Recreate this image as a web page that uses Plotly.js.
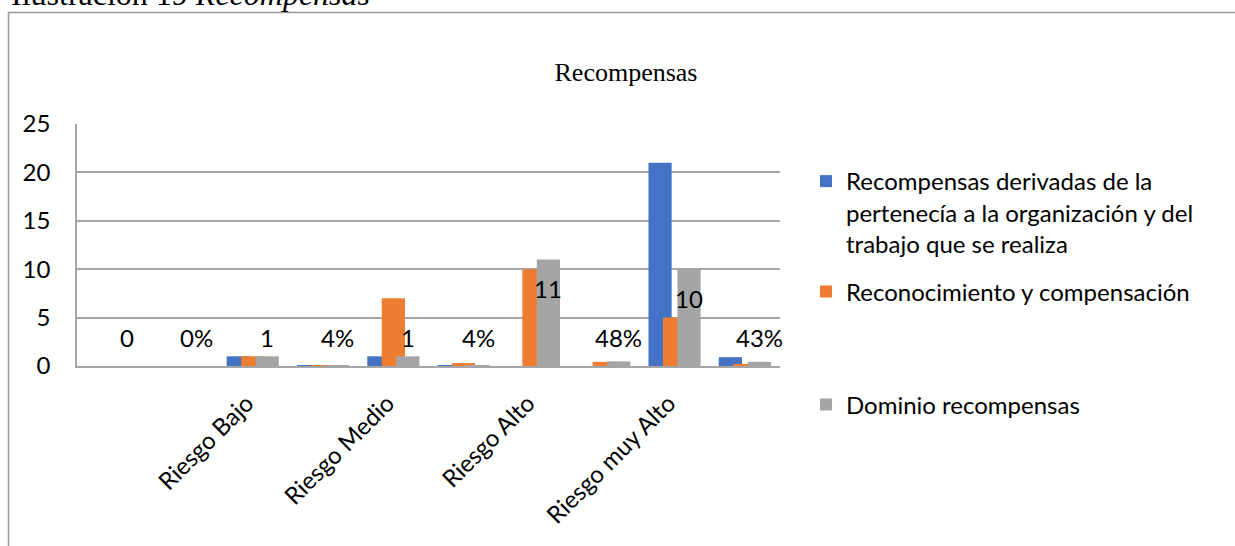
<!DOCTYPE html>
<html>
<head>
<meta charset="utf-8">
<script src="https://cdn.plot.ly/plotly-3.0.1.min.js"></script>
<style>html,body{margin:0;padding:0;background:#fff;}#chart{width:1235px;height:546px;}</style>
</head>
<body>
<div id="chart"></div>
<script>
// ---- data ----
const categories = ['Sin riesgo (n)', 'Sin riesgo (%)', 'Riesgo Bajo', 'Riesgo Bajo (%)', 'Riesgo Medio', 'Riesgo Medio (%)', 'Riesgo Alto', 'Riesgo Alto (%)', 'Riesgo muy Alto', 'Riesgo muy Alto (%)'];
const seriesNames = [
  'Recompensas derivadas de la<br>pertenecía a la organización y del<br>trabajo que se realiza',
  'Reconocimiento y compensación',
  'Dominio recompensas'
];
const blueVals   = [0, 0, 1, 0.04, 1, 0.04, 0, 0, 21, 0.91];
const orangeVals = [0, 0, 1, 0.04, 7, 0.30, 10, 0.43, 5, 0.22];
const grayVals   = [0, 0, 1, 0.04, 1, 0.04, 11, 0.48, 10, 0.43];
const grayLabels = ['0', '0%', '1', '4%', '1', '4%', '11', '48%', '10', '43%'];
const axisLabels = ['Riesgo Bajo', 'Riesgo Medio', 'Riesgo Alto', 'Riesgo muy Alto'];
const yTicks = [0, 5, 10, 15, 20, 25];

// ---- style ----
const colors = ['#4472C4', '#ED7D31', '#A5A5A5'];
const SANS = 'Lato, "Open Sans", sans-serif';
const SERIF = '"Liberation Serif", "Times New Roman", serif';
const FS = 24;
const W = 1235, H = 546;
const M = {l: 77, r: 455, t: 124, b: 180};
const plotW = W - M.l - M.r;
const barW = 0.33;      // category units
const step = 0.206;     // offset between series centres
const centres = [-step, 0, step];

const allVals = [blueVals, orangeVals, grayVals];
const legends = ['legend', 'legend2', 'legend3'];
const traces = allVals.map((vals, k) => ({
  type: 'bar',
  x: categories,
  y: vals,
  name: seriesNames[k],
  marker: {color: colors[k]},
  width: barW,
  offset: centres[k] - barW / 2,
  legend: legends[k],
  hoverinfo: 'y'
}));

const pxPerCat = plotW / categories.length;
const annotations = grayVals.map((v, i) => ({
  x: categories[i], xref: 'x', y: Math.max(v - 3.0, 2.9), yref: 'y',
  xshift: centres[2] * pxPerCat, text: grayLabels[i], showarrow: false,
  font: {family: SANS, size: FS, color: '#000'}, xanchor: 'center', yanchor: 'middle'
}));
const px2x = p => (p - M.l) / plotW;
const py2y = p => (H - M.b - p) / (H - M.t - M.b);
annotations.push({
  xref: 'paper', yref: 'paper', x: px2x(9), y: py2y(14), xanchor: 'left', yanchor: 'bottom',
  text: 'Ilustración 19 <i>Recompensas</i>', showarrow: false,
  font: {family: SERIF, size: 32, color: '#000'}
});

const legendBase = {
  bgcolor: 'rgba(0,0,0,0)', borderwidth: 0, font: {family: SANS, size: FS, color: '#000'},
  xanchor: 'left', valign: 'top', itemclick: false, itemdoubleclick: false
};

const layout = {
  width: W, height: H,
  margin: M,
  paper_bgcolor: '#fff', plot_bgcolor: '#fff',
  barmode: 'overlay',
  showlegend: true,
  title: {
    text: 'Recompensas', font: {family: SERIF, size: 26, color: '#000'},
    xref: 'paper', x: px2x(626), xanchor: 'center',
    yref: 'container', y: 1 - 72 / H, yanchor: 'middle'
  },
  xaxis: {
    type: 'category', categoryorder: 'array', categoryarray: categories,
    range: [-0.5, categories.length - 0.5],
    tickmode: 'array', tickvals: axisLabels, ticktext: axisLabels, tickangle: -45,
    ticks: 'outside', ticklen: 12, tickcolor: 'rgba(0,0,0,0)', ticklabelshift: -6,
    tickfont: {family: SANS, size: FS, color: '#000'},
    showline: true, linecolor: '#a6a6a6', linewidth: 1.5, showgrid: false, zeroline: false,
    fixedrange: true
  },
  yaxis: {
    range: [0, 25], tickvals: yTicks, showgrid: true, gridcolor: '#a6a6a6', gridwidth: 1.5,
    showline: true, linecolor: '#a6a6a6', linewidth: 1.5, zeroline: false,
    ticks: 'outside', ticklen: 20, tickcolor: 'rgba(0,0,0,0)',
    tickfont: {family: SANS, size: FS, color: '#000'}, fixedrange: true
  },
  legend:  Object.assign({}, legendBase, {x: px2x(806), y: py2y(159), yanchor: 'top'}),
  legend2: Object.assign({}, legendBase, {x: px2x(806), y: py2y(292), yanchor: 'middle'}),
  legend3: Object.assign({}, legendBase, {x: px2x(806), y: py2y(405), yanchor: 'middle'}),
  annotations: annotations,
  shapes: [{
    type: 'rect', xref: 'paper', yref: 'paper',
    x0: px2x(8.5), x1: px2x(1300), y0: py2y(620), y1: py2y(12.5),
    line: {color: '#999', width: 1.5}, fillcolor: 'rgba(0,0,0,0)', layer: 'below'
  }]
};

Plotly.newPlot('chart', traces, layout, {displayModeBar: false});
</script>
</body>
</html>
